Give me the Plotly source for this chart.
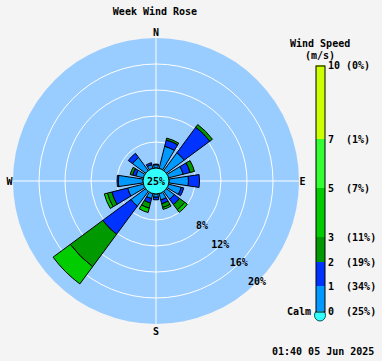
import plotly.graph_objects as go

W, H = 382, 361

directions = ['N', 'NNE', 'NE', 'ENE', 'E', 'ESE', 'SE', 'SSE',
              'S', 'SSW', 'SW', 'WSW', 'W', 'WNW', 'NW', 'NNW']
angles = [i * 22.5 for i in range(16)]

speed_bins = ['0-1', '1-2', '2-3', '3-5', '5-7', '7-10']
bin_colors = ['#0099ff', '#0033ff', '#009900', '#00cc00', '#33ff33', '#ccff00']

# percent frequency per direction for each speed bin
s0_1 = [0.5, 3.5, 3.4, 2.3, 3.0, 2.0, 1.5, 1.0, 0.5, 0.8, 2.8, 2.5, 3.8, 1.2, 2.5, 0.6]
s1_2 = [0.1, 1.0, 4.9, 1.1, 1.7, 0.4, 1.0, 0.6, 0.4, 0.7, 5.4, 2.5, 0.2, 0.5, 0.8, 0.3]
s2_3 = [0.0, 0.3, 0.5, 0.7, 0.0, 0.0, 1.0, 0.6, 0.0, 0.8, 6.2, 0.7, 0.0, 0.4, 0.0, 0.0]
s3_5 = [0.0, 0.0, 0.0, 0.0, 0.0, 0.0, 0.5, 0.3, 0.0, 0.7, 3.3, 0.5, 0.0, 0.0, 0.0, 0.0]
s5_7 = [0.0] * 16
s7_10 = [0.0] * 16
series = [s0_1, s1_2, s2_3, s3_5, s5_7, s7_10]

calm_pct = 25
ring_vals = [4, 8, 12, 16, 20]
ring_labels = ['8%', '12%', '16%', '20%']
ring_label_vals = [8, 12, 16, 20]

scale_ticks = [0, 1, 2, 3, 5, 7, 10]
scale_pcts = [25, 34, 19, 11, 7, 1, 0]

FONT = 'DejaVu Sans Mono'
bold = dict(family=FONT, size=10, color='black', weight='bold')

fig = go.Figure()
for name, vals, col in zip(speed_bins, series, bin_colors):
    fig.add_trace(go.Barpolar(
        r=vals, theta=angles, width=17, name=name,
        marker=dict(color=col, line=dict(color='black', width=1)),
    ))

# ring labels along SE
fig.add_trace(go.Scatterpolar(
    r=ring_label_vals, theta=[135] * len(ring_label_vals), mode='text',
    text=ring_labels, textfont=bold, cliponaxis=False, hoverinfo='skip',
))

# colour scale (legend bar)
cs = []
edges = [0, 1, 2, 3, 5, 7, 10]
for i, c in enumerate(bin_colors):
    cs.append([edges[i] / 10, c])
    cs.append([edges[i + 1] / 10, c])
ticktext = []
for v, p in zip(scale_ticks, scale_pcts):
    sv = str(v)
    ticktext.append(sv + '\u00a0' * (3 - len(sv)) + '(%d%%)' % p)

fig.add_trace(go.Scatterpolar(
    r=[0], theta=[0], mode='markers', hoverinfo='skip',
    marker=dict(size=1, opacity=0, color=[0], cmin=0, cmax=10, colorscale=cs,
                showscale=True,
                colorbar=dict(
                    x=315.5 / W, xanchor='left', xpad=0, ypad=0,
                    y=1 - 188.5 / H, yanchor='middle',
                    len=246, lenmode='pixels', thickness=9,
                    outlinecolor='black', outlinewidth=1,
                    tickvals=scale_ticks, ticktext=ticktext, ticks='',
                    tickfont=bold,
                )),
))

cx, cy, cr = 156, 181, 143
hole_r = 13

fig.update_layout(
    width=W, height=H,
    margin=dict(l=0, r=0, t=0, b=0),
    paper_bgcolor='#f4f4f4',
    showlegend=False,
    polar=dict(
        domain=dict(x=[(cx - cr) / W, (cx + cr) / W],
                    y=[1 - (cy + cr) / H, 1 - (cy - cr) / H]),
        hole=hole_r / cr,
        bgcolor='#99ccff',
        barmode='stack',
        radialaxis=dict(range=[0, 20], tickvals=ring_vals, showticklabels=False,
                        gridcolor='white', gridwidth=1, showline=False, ticks='',
                        layer='below traces'),
        angularaxis=dict(rotation=90, direction='clockwise',
                         tickvals=[0, 90, 180, 270], ticktext=['N', 'E', 'S', 'W'],
                         gridcolor='white', gridwidth=1, showline=False, ticks='',
                         tickfont=bold, layer='below traces'),
    ),
    title=dict(text='Week Wind Rose', x=155 / W, xanchor='center',
               y=1 - 11 / H, yanchor='middle', font=bold),
    shapes=[
        dict(type='circle', xref='paper', yref='paper',
             x0=(cx - hole_r) / W, x1=(cx + hole_r) / W,
             y0=1 - (cy + hole_r) / H, y1=1 - (cy - hole_r) / H,
             fillcolor='#33ffff', line=dict(color='black', width=1)),
        dict(type='circle', xref='paper', yref='paper',
             x0=314.5 / W, x1=325.5 / W, y0=1 - 321 / H, y1=1 - 309.5 / H,
             fillcolor='#33ffff', line=dict(color='#005555', width=1)),
    ],
    annotations=[
        dict(text='%d%%' % calm_pct, x=cx / W, y=1 - cy / H, xref='paper', yref='paper',
             showarrow=False, font=bold, xanchor='center', yanchor='middle'),
        dict(text='Wind Speed', x=320 / W, y=1 - 44 / H, xref='paper', yref='paper',
             showarrow=False, font=bold, xanchor='center', yanchor='middle'),
        dict(text='(m/s)', x=320 / W, y=1 - 56 / H, xref='paper', yref='paper',
             showarrow=False, font=bold, xanchor='center', yanchor='middle'),
        dict(text='Calm', x=313 / W, y=1 - 311 / H, xref='paper', yref='paper',
             showarrow=False, font=bold, xanchor='right', yanchor='middle'),
        dict(text='01:40 05 Jun 2025', x=376 / W, y=1 - 351 / H, xref='paper', yref='paper',
             showarrow=False, font=bold, xanchor='right', yanchor='middle'),
    ],
)

fig.write_html('out.html', config={'displayModeBar': False},
               post_script="document.body.style.margin='0';document.body.style.padding='0';")
